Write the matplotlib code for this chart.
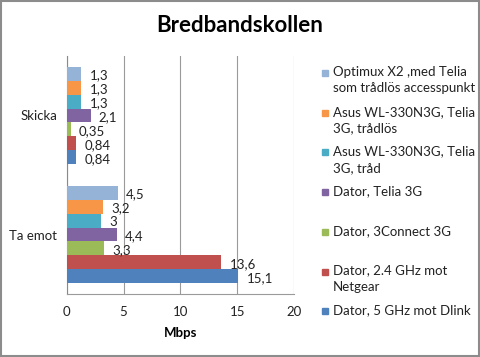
import numpy as np
import matplotlib
matplotlib.use('Agg')
import matplotlib.pyplot as plt
from matplotlib.patches import Rectangle

categories = ['Ta emot', 'Skicka']
series_names = [
    'Dator, 5 GHz mot Dlink',
    'Dator, 2.4 GHz mot\nNetgear',
    'Dator, 3Connect 3G',
    'Dator, Telia 3G',
    'Asus WL-330N3G, Telia\n3G, tråd',
    'Asus WL-330N3G, Telia\n3G, trådlös',
    'Optimux X2 ,med Telia\nsom trådlös accesspunkt',
]
# values per series: (Ta emot, Skicka)
ta_emot = [15.1, 13.6, 3.3, 4.4, 3.0, 3.2, 4.5]
skicka = [0.84, 0.84, 0.35, 2.1, 1.3, 1.3, 1.3]
value_labels_ta = ['15,1', '13,6', '3,3', '4,4', '3', '3,2', '4,5']
value_labels_sk = ['0,84', '0,84', '0,35', '2,1', '1,3', '1,3', '1,3']
xticks = [0, 5, 10, 15, 20]

colors = ['#4F81BD', '#C0504D', '#9BBB59', '#8064A2',
          '#4BACC6', '#F79646', '#95B3D7']

plt.rcParams['font.family'] = ['Lato', 'DejaVu Sans']

W, H = 480, 357
fig = plt.figure(figsize=(4.8, 3.57), dpi=100)
ax = fig.add_axes([66.7 / W, 1 - 294 / H, (294 - 66.7) / W, (294 - 56) / H])

n = len(series_names)
h = 0.823 / n
ypos = np.arange(len(categories))
for i in range(n):
    yy = ypos - 0.823 / 2 + h * (i + 0.5)
    vals = [ta_emot[i], skicka[i]]
    labs = [value_labels_ta[i], value_labels_sk[i]]
    ax.barh(yy, vals, height=h, color=colors[i], zorder=3)
    for y, v, lab in zip(yy, vals, labs):
        ax.annotate(lab, (v, y), xytext=(6, -1), textcoords='offset points',
                    va='center', ha='left', fontsize=9.5, color='#222222')

ax.set_xlim(0, 20)
ax.set_ylim(-0.5, 1.5)
ax.set_xticks(xticks)
ax.set_yticks(ypos)
ax.set_yticklabels(categories)
ax.tick_params(axis='both', length=0, labelsize=9.5, colors='#222222')
ax.tick_params(axis='x', pad=9)
ax.tick_params(axis='y', pad=7)
ax.grid(axis='x', color='#9a9a9a', lw=0.8, zorder=0)
for s in ('top', 'right'):
    ax.spines[s].set_visible(False)
ax.spines['left'].set_color('#8a8a8a')
ax.spines['bottom'].set_color('#9a9a9a')
ax.set_xlabel('Mbps', fontsize=9.5, fontweight='bold', labelpad=6)

fig.text(240 / W, 1 - 25 / H, 'Bredbandskollen', ha='center', va='center',
         fontsize=16, fontweight='bold')

# legend, drawn by hand so entries sit at even spacing
y0, dy = 73, 39.7
for k, i in enumerate(range(n - 1, -1, -1)):
    yc = y0 + k * dy
    fig.patches.append(Rectangle((322 / W, 1 - (yc + 3) / H), 6 / W, 6 / H,
                                 transform=fig.transFigure,
                                 color=colors[i]))
    fig.text(333 / W, 1 - (yc - 7) / H, series_names[i], ha='left',
             va='top', fontsize=9.5, color='#222222', linespacing=1.45)

fig.patches.append(Rectangle((1 / W, 1 / H), (W - 2) / W, (H - 2) / H,
                             transform=fig.transFigure, fill=False,
                             edgecolor='#8c8c8c', lw=1.5))

fig.savefig('out.png', dpi=100)
